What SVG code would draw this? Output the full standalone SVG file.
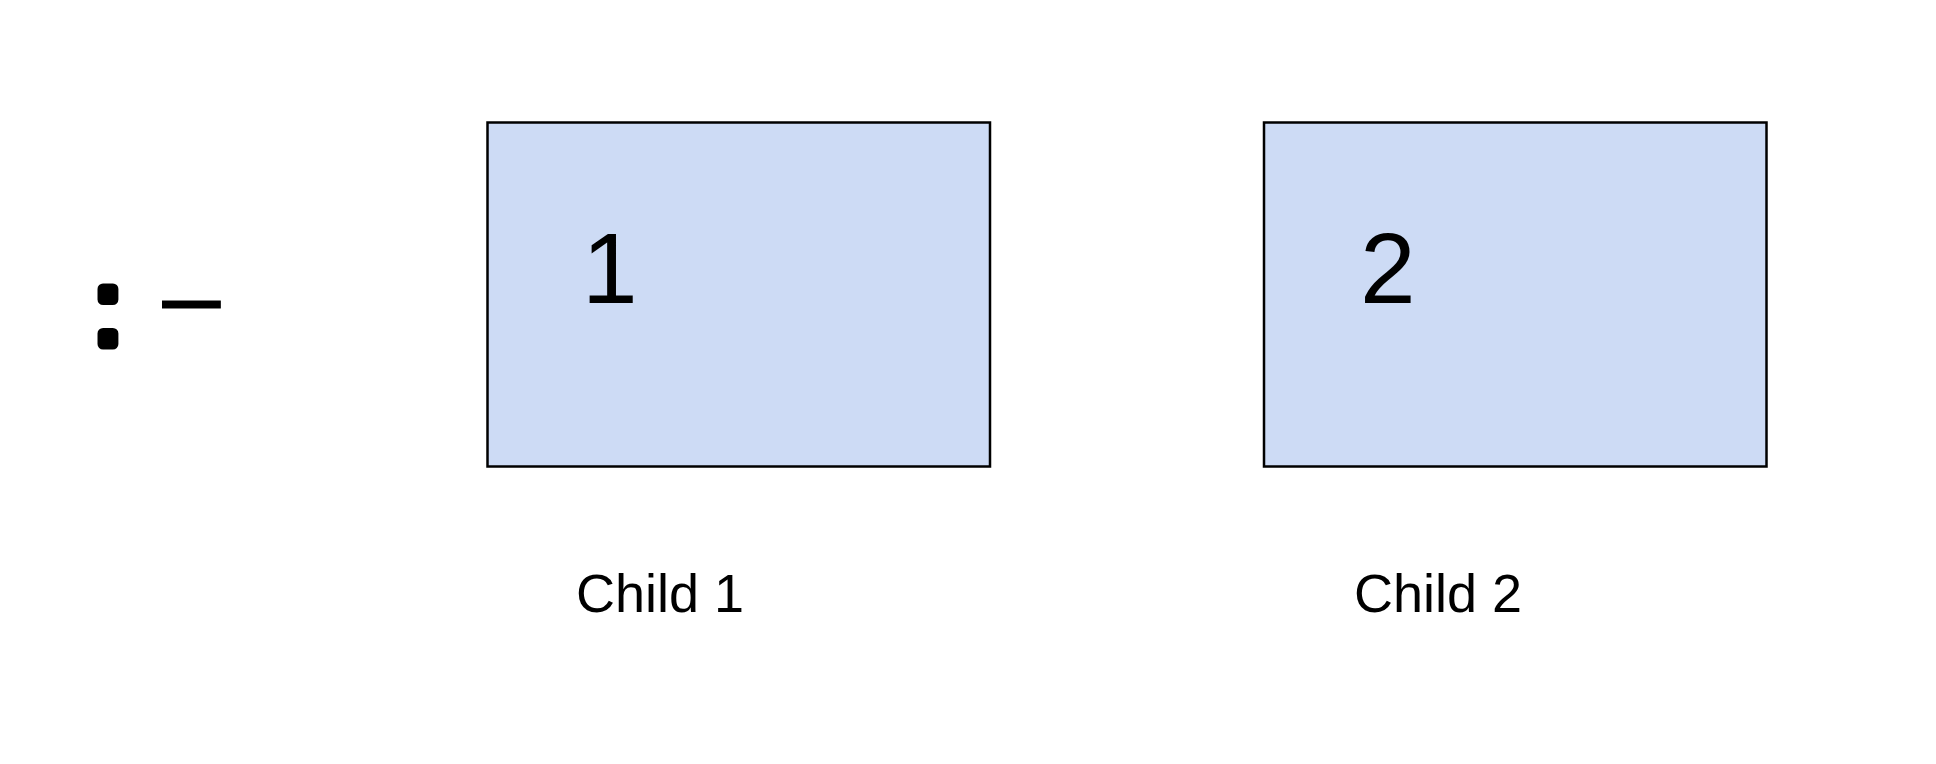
<svg xmlns="http://www.w3.org/2000/svg" width="1936" height="764" viewBox="0 0 1936 764">
<style>
.box{fill:#cddbf5;stroke:#000;stroke-width:2.5}
.t{font-family:"Liberation Sans",Arial,sans-serif;fill:#000}
.big{font-size:100px}
.lbl{font-size:54px}
</style>
<rect width="1936" height="764" fill="#fff"/>
<g id="legend">
<text class="t" x="93.5" y="344" font-size="104" stroke="#000" stroke-width="11" stroke-linejoin="round">:</text>
<text class="t" x="162.5" y="331" font-size="104" stroke="#000" stroke-width="1">–</text>
</g>
<g id="child1">
<rect class="box" x="487.5" y="122.5" width="502.5" height="344"/>
<text class="t big" x="582" y="303">1</text>
<text class="t lbl" x="576" y="612">Child 1</text>
</g>
<g id="child2">
<rect class="box" x="1264" y="122.5" width="502.5" height="344"/>
<text class="t big" x="1360" y="303">2</text>
<text class="t lbl" x="1354" y="612">Child 2</text>
</g>
<g id="connectors"></g>
</svg>
